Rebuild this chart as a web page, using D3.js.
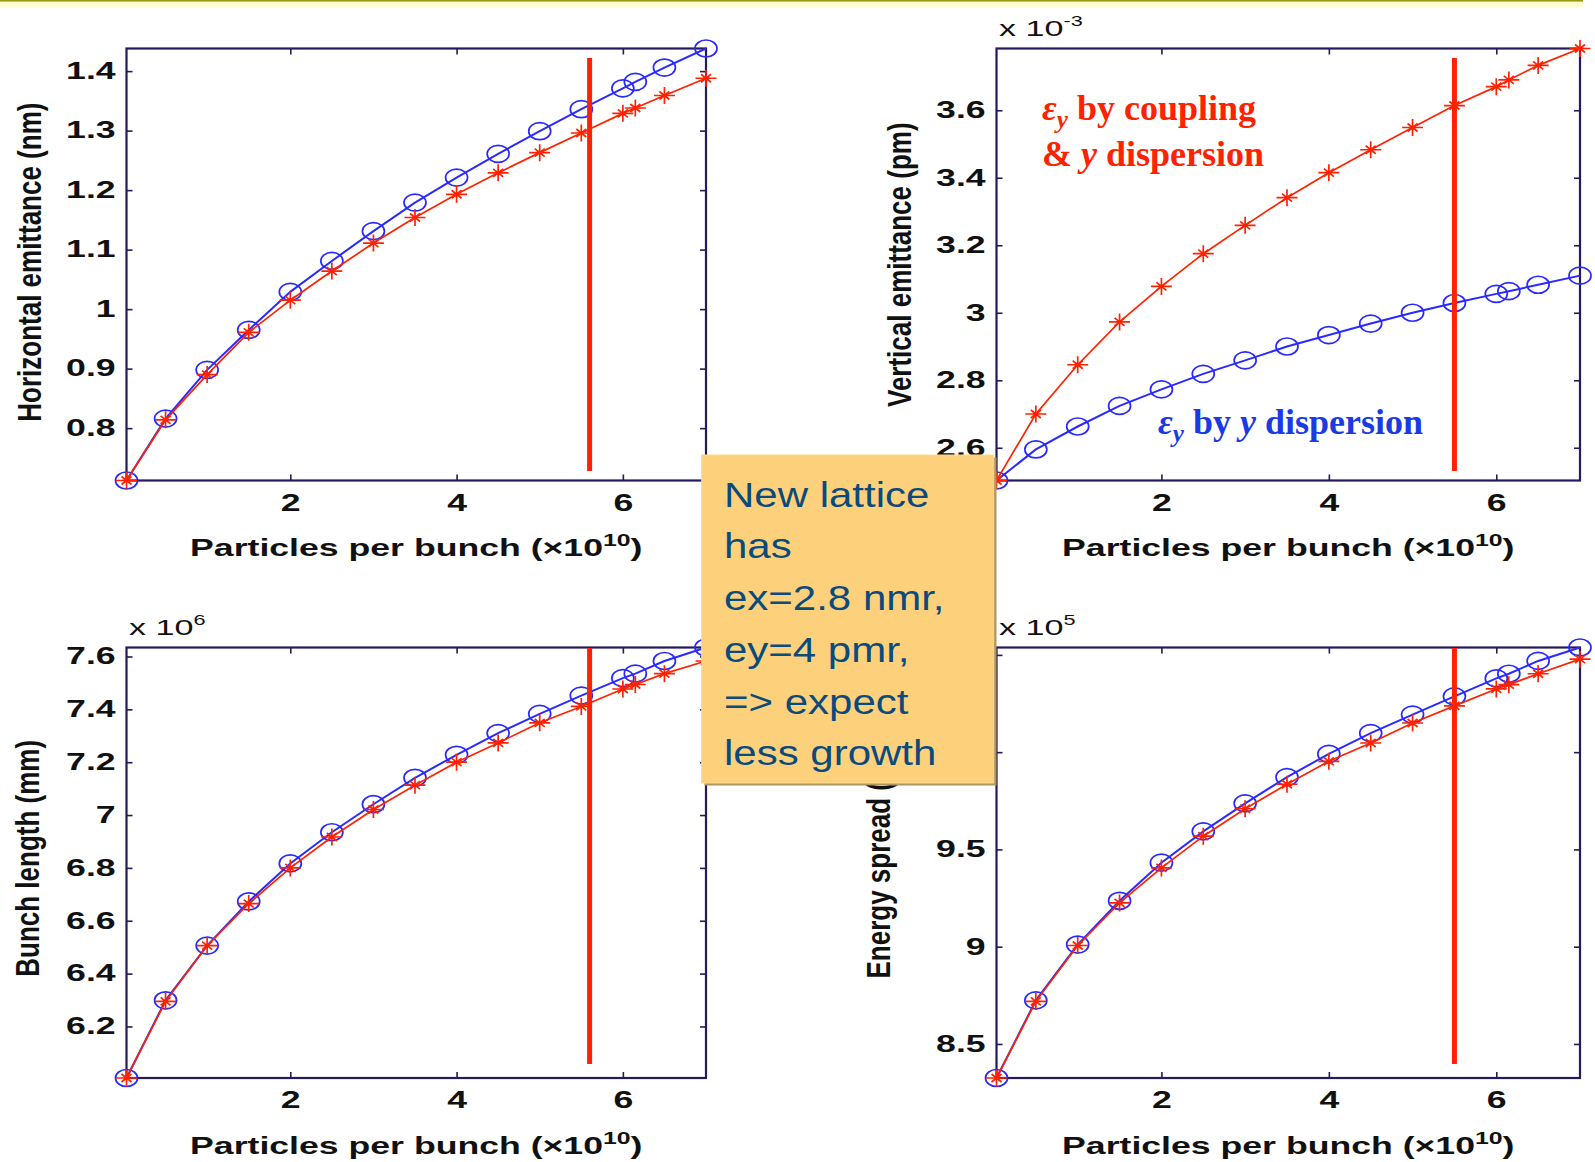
<!DOCTYPE html>
<html><head><meta charset="utf-8">
<script src="https://cdn.jsdelivr.net/npm/d3@7"></script>
<style>
html,body{margin:0;padding:0;background:#fff;}
svg{display:block;}
</style></head><body>
<svg id="c" width="1595" height="1162"></svg>
<script>
// ---------------- data ----------------
const xVals = [0.03, 0.5, 1, 1.5, 2, 2.5, 3, 3.5, 4, 4.5, 5, 5.5, 6, 6.15, 6.5, 7];
const xTicks = [2, 4, 6];

const hEmitBlue = [0.712, 0.816, 0.898, 0.965, 1.029, 1.081, 1.131, 1.179, 1.221, 1.261, 1.299, 1.336, 1.371, 1.382, 1.406, 1.438];
const hEmitRed  = [0.712, 0.814, 0.890, 0.961, 1.015, 1.064, 1.111, 1.154, 1.193, 1.229, 1.263, 1.296, 1.329, 1.338, 1.359, 1.388];
const hEmitTicks = [0.8, 0.9, 1, 1.1, 1.2, 1.3, 1.4];

const vEmitBlue = [2.503, 2.595, 2.663, 2.724, 2.773, 2.819, 2.859, 2.900, 2.934, 2.968, 3.000, 3.029, 3.056, 3.064, 3.083, 3.110];
const vEmitRed  = [2.503, 2.700, 2.846, 2.973, 3.078, 3.175, 3.259, 3.341, 3.415, 3.483, 3.549, 3.614, 3.670, 3.690, 3.733, 3.783];
const vEmitTicks = [2.6, 2.8, 3, 3.2, 3.4, 3.6];

const bunchBlue = [6.005, 6.299, 6.506, 6.673, 6.817, 6.935, 7.041, 7.141, 7.228, 7.310, 7.383, 7.452, 7.518, 7.535, 7.583, 7.634];
const bunchRed  = [6.005, 6.295, 6.506, 6.665, 6.800, 6.917, 7.021, 7.113, 7.200, 7.273, 7.349, 7.411, 7.477, 7.494, 7.535, 7.583];
const bunchTicks = [6.2, 6.4, 6.6, 6.8, 7, 7.2, 7.4, 7.6];

const espreadBlue = [8.325, 8.724, 9.011, 9.236, 9.432, 9.593, 9.737, 9.872, 9.991, 10.098, 10.193, 10.287, 10.379, 10.403, 10.469, 10.538];
const espreadRed  = [8.325, 8.719, 9.006, 9.225, 9.405, 9.568, 9.709, 9.835, 9.953, 10.047, 10.150, 10.238, 10.325, 10.347, 10.403, 10.478];
const espreadTicks = [8.5, 9, 9.5, 10, 10.5];

const vLineX = [5.6, 5.5, 5.6, 5.5];   // design-current markers per panel

const yLabels = ["Horizontal emittance (nm)", "Vertical emittance (pm)", "Bunch length (mm)", "Energy spread (%)"];
const expLabels = [null, "-3", "6", "5"];
const xLabelMain = "Particles per bunch (\u00d710";
const xLabelSup = "10";

const noteLines = ["New lattice", "has", "ex=2.8 nmr,", "ey=4 pmr,", "=> expect", "less growth"];

// ---------------- drawing ----------------
const svg = d3.select("#c");
const SANS = "'Liberation Sans', Arial, Helvetica, sans-serif";
const SERIF = "'Liberation Serif', 'Times New Roman', serif";
const SX = 1.55;           // horizontal stretch of the original figure text
const AX = "#241a5c";
const BLUE = "#2a2aff";
const RED = "#ff2200";

// slide top band
svg.append("rect").attr("x", 0).attr("y", 0).attr("width", 1583).attr("height", 7.5).attr("fill", "#fffdd2");
svg.append("rect").attr("x", 0).attr("y", 0).attr("width", 1583).attr("height", 1.6).attr("fill", "#9c9a10");

const panels = [
  {left: 126.5, right: 706, top: 48.5, bottom: 480.5, blue: hEmitBlue, red: hEmitRed, ticks: hEmitTicks,
   ylabX: 41, ylabY: 421.7, lineTop: 9.5, lineBot: 9.5, xlabY: 556},
  {left: 996.5, right: 1580, top: 48.5, bottom: 480.5, blue: vEmitBlue, red: vEmitRed, ticks: vEmitTicks,
   ylabX: 911, ylabY: 407, lineTop: 9.5, lineBot: 9.5, xlabY: 556},
  {left: 126.5, right: 706, top: 647.5, bottom: 1078, blue: bunchBlue, red: bunchRed, ticks: bunchTicks,
   ylabX: 39, ylabY: 976.7, lineTop: 0.5, lineBot: 14, xlabY: 1153.5},
  {left: 996.5, right: 1580, top: 647.5, bottom: 1078, blue: espreadBlue, red: espreadRed, ticks: espreadTicks,
   ylabX: 890, ylabY: 978.5, lineTop: 0.5, lineBot: 14, xlabY: 1153.5}
];

function styleAxis(sel, withText) {
  sel.select(".domain").remove();
  sel.attr("font-family", SANS).attr("font-size", 23).attr("font-weight", "bold");
  sel.selectAll(".tick line").attr("stroke", AX).attr("stroke-width", 1.6);
  if (withText) sel.selectAll(".tick text").attr("fill", "#111").attr("transform", `scale(${SX},1)`);
}

panels.forEach((p, i) => {
  const x = d3.scaleLinear().domain([d3.min(xVals), d3.max(xVals)]).range([p.left, p.right]);
  const ymin = Math.min(d3.min(p.blue), d3.min(p.red));
  const ymax = Math.max(d3.max(p.blue), d3.max(p.red));
  const y = d3.scaleLinear().domain([ymin, ymax]).range([p.bottom, p.top]);
  const g = svg.append("g");

  // axes (MATLAB style, ticks inward on all four sides)
  g.append("g").attr("transform", `translate(0,${p.bottom})`)
    .call(d3.axisBottom(x).tickValues(xTicks).tickSize(-6).tickPadding(14).tickFormat(d => String(d)))
    .call(s => styleAxis(s, true));
  g.append("g").attr("transform", `translate(0,${p.top})`)
    .call(d3.axisTop(x).tickValues(xTicks).tickSize(-6).tickFormat(""))
    .call(s => styleAxis(s, false));
  g.append("g").attr("transform", `translate(${p.left},0)`)
    .call(d3.axisLeft(y).tickValues(p.ticks).tickSize(-6).tickPadding(7).tickFormat(d => String(d)))
    .call(s => styleAxis(s, true));
  g.append("g").attr("transform", `translate(${p.right},0)`)
    .call(d3.axisRight(y).tickValues(p.ticks).tickSize(-6).tickFormat(""))
    .call(s => styleAxis(s, false));

  g.append("rect").attr("x", p.left).attr("y", p.top)
    .attr("width", p.right - p.left).attr("height", p.bottom - p.top)
    .attr("fill", "none").attr("stroke", AX).attr("stroke-width", 2.2);

  // series
  const line = d3.line().x((d, k) => x(xVals[k])).y(d => y(d));
  g.append("path").datum(p.blue).attr("d", line).attr("fill", "none").attr("stroke", BLUE).attr("stroke-width", 2);
  g.selectAll(".circ").data(p.blue).enter().append("ellipse")
    .attr("cx", (d, k) => x(xVals[k])).attr("cy", d => y(d))
    .attr("rx", 11).attr("ry", 8.5).attr("fill", "none").attr("stroke", BLUE).attr("stroke-width", 1.7);
  g.append("path").datum(p.red).attr("d", line).attr("fill", "none").attr("stroke", RED).attr("stroke-width", 1.7);
  g.selectAll(".star").data(p.red).enter().append("path")
    .attr("transform", (d, k) => `translate(${x(xVals[k])},${y(d)})`)
    .attr("d", "M-10.5,0H10.5M0,-8.5V8.5M-5,-4L5,4M-5,4L5,-4")
    .attr("fill", "none").attr("stroke", RED).attr("stroke-width", 1.7);

  // vertical red bar
  g.append("line").attr("x1", x(vLineX[i])).attr("x2", x(vLineX[i]))
    .attr("y1", p.top + p.lineTop).attr("y2", p.bottom - p.lineBot)
    .attr("stroke", "#ff2200").attr("stroke-width", 5);

  // x label
  const xl = g.append("g").attr("transform", `translate(${(p.left + p.right) / 2},${p.xlabY}) scale(${SX},1)`)
    .append("text").attr("text-anchor", "middle").attr("font-family", SANS).attr("font-size", 23)
    .attr("font-weight", "bold").attr("fill", "#111");
  xl.append("tspan").text(xLabelMain);
  xl.append("tspan").attr("font-size", 16).attr("dy", -10).text(xLabelSup);
  xl.append("tspan").attr("dy", 10).text(")");

  // y label (rotated)
  g.append("g").attr("transform", `translate(${p.ylabX},${p.ylabY}) rotate(-90) scale(1,1.3)`)
    .append("text").attr("text-anchor", "start").attr("font-family", SANS).attr("font-size", 26)
    .attr("font-weight", "bold").attr("fill", "#111").text(yLabels[i]);

  // exponent label
  if (expLabels[i]) {
    const et = g.append("g").attr("transform", `translate(${p.left + 2.5},${p.top - 13}) scale(${SX},1)`)
      .append("text").attr("font-family", SANS).attr("font-size", 22).attr("fill", "#111");
    et.append("tspan").text("x 10");
    et.append("tspan").attr("font-size", 14).attr("dy", -10).text(expLabels[i]);
  }
});

// annotations on the vertical emittance panel
function annot(xp, yp, color, parts) {
  const t = svg.append("text").attr("x", xp).attr("y", yp).attr("font-family", SERIF)
    .attr("font-size", 36).attr("font-weight", "bold").attr("fill", color);
  parts.forEach(pt => {
    const s = t.append("tspan").text(pt.t);
    if (pt.i) s.attr("font-style", "italic");
    if (pt.sub) s.attr("font-size", 25).attr("dy", 8);
    if (pt.up) s.attr("dy", -8);
  });
}
annot(1042, 120, RED, [{t: "\u03b5", i: true}, {t: "y", i: true, sub: true}, {t: " by coupling", up: true}]);
annot(1042, 166, RED, [{t: "& "}, {t: "y", i: true}, {t: " dispersion"}]);
annot(1158, 434, "#1a3ae6", [{t: "\u03b5", i: true}, {t: "y", i: true, sub: true}, {t: " by ", up: true}, {t: "y", i: true}, {t: " dispersion"}]);

// yellow note box
svg.append("rect").attr("x", 704.5).attr("y", 457.5).attr("width", 292).attr("height", 328).attr("fill", "#b39560");
svg.append("rect").attr("x", 701.7).attr("y", 455).attr("width", 292).attr("height", 328)
  .attr("fill", "#fdd17c").attr("stroke", "#fbd98f").attr("stroke-width", 1);
noteLines.forEach((ln, k) => {
  svg.append("g").attr("transform", `translate(724,${506.7 + k * 51.7}) scale(1.2,1)`)
    .append("text").attr("font-family", SANS).attr("font-size", 35).attr("fill", "#0b4a7d").text(ln);
});
</script>
</body></html>
